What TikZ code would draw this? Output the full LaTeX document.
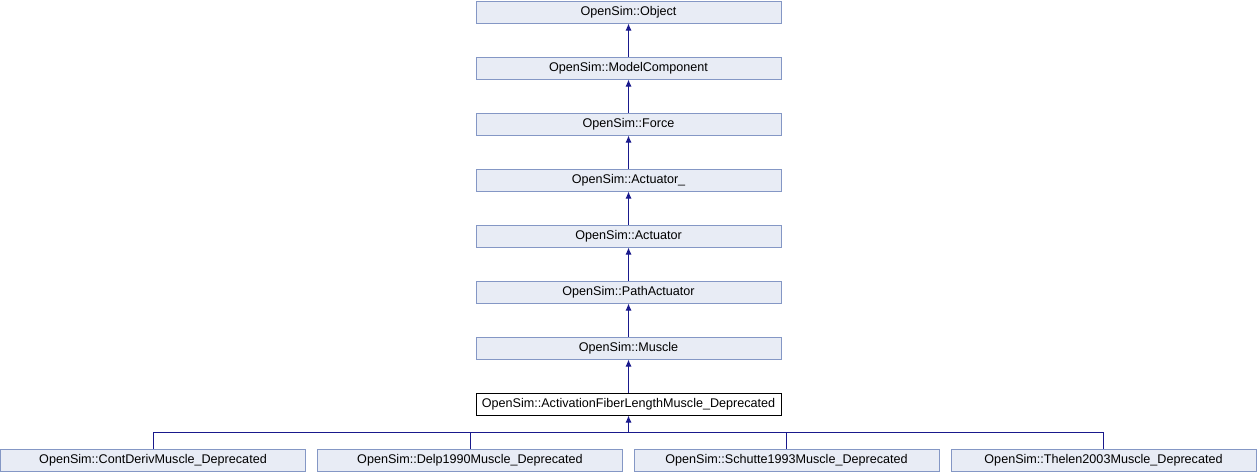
\documentclass[tikz,border=0pt]{standalone}
\usepackage{fontspec}
\setmainfont{Liberation Sans}
\usetikzlibrary{arrows.meta}

\definecolor{boxfill}{RGB}{232,236,245}
\definecolor{boxline}{RGB}{132,151,197}
\definecolor{edgeblue}{RGB}{25,25,140}

\begin{document}
\begin{tikzpicture}[x=1pt, y=1pt,
        cls/.style={draw=boxline, fill=boxfill, line width=1pt, minimum width=305pt, minimum height=22pt, inner sep=0pt, font=\fontsize{12.6}{14}\selectfont},
        cur/.style={cls, draw=black, fill=white},
        inh/.style={edgeblue, line width=1pt, -{Latex[length=7pt, width=6pt]}},
        link/.style={edgeblue, line width=1pt}]
        \useasboundingbox (0, 0) rectangle (1258, -472);

        \node[cls] (object) at (628.5, -12) {OpenSim::Object};
        \node[cls] (modelcomp) at (628.5, -68) {OpenSim::ModelComponent};
        \node[cls] (force) at (628.5, -124) {OpenSim::Force};
        \node[cls] (actuatorbase) at (628.5, -180) {OpenSim::Actuator\_};
        \node[cls] (actuator) at (628.5, -236) {OpenSim::Actuator};
        \node[cls] (pathact) at (628.5, -292) {OpenSim::PathActuator};
        \node[cls] (muscle) at (628.5, -348) {OpenSim::Muscle};
        \node[cur] (afl) at (628.5, -404) {OpenSim::ActivationFiberLengthMuscle\_Deprecated};

        \node[cls] (contderiv) at (153, -460) {OpenSim::ContDerivMuscle\_Deprecated};
        \node[cls] (delp) at (470, -460) {OpenSim::Delp1990Muscle\_Deprecated};
        \node[cls] (schutte) at (786.5, -460) {OpenSim::Schutte1993Muscle\_Deprecated};
        \node[cls] (thelen) at (1103.5, -460) {OpenSim::Thelen2003Muscle\_Deprecated};

        \draw[inh] (modelcomp) -- (object);
        \draw[inh] (force) -- (modelcomp);
        \draw[inh] (actuatorbase) -- (force);
        \draw[inh] (actuator) -- (actuatorbase);
        \draw[inh] (pathact) -- (actuator);
        \draw[inh] (muscle) -- (pathact);
        \draw[inh] (afl) -- (muscle);

        % children joined on one bar
        \coordinate (bar) at (628.5, -432);
        \draw[link] (contderiv.north) |- (bar);
        \draw[link] (delp.north) |- (bar);
        \draw[link] (schutte.north) |- (bar);
        \draw[link] (thelen.north) |- (bar);
        \draw[inh] (bar) -- (afl.south);
\end{tikzpicture}
\end{document}
